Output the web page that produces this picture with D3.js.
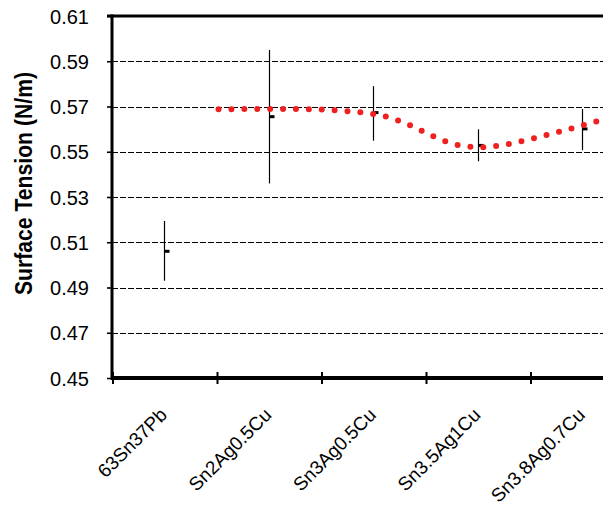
<!DOCTYPE html>
<html>
<head>
<meta charset="utf-8">
<script src="https://cdn.jsdelivr.net/npm/d3@7"></script>
<style>
  html, body { margin: 0; padding: 0; background: #fff; }
  svg { display: block; }
</style>
</head>
<body>
<svg id="chart" width="603" height="510"></svg>
<script>
// ---- data ----
const categories = ["63Sn37Pb", "Sn2Ag0.5Cu", "Sn3Ag0.5Cu", "Sn3.5Ag1Cu", "Sn3.8Ag0.7Cu"];
const meanValues = [0.506, 0.5655, 0.5673, 0.5528, 0.5601];
const errHigh    = [0.5194, 0.5950, 0.5790, 0.5599, 0.5689];
const errLow     = [0.4930, 0.5360, 0.5549, 0.5458, 0.5507];
// red dotted trend curve (x in category-index units)
const trendX = [0.51, 1.0, 1.38, 1.63, 1.87, 2.11, 2.34, 2.56, 2.79, 3.03, 3.28, 3.52, 3.76, 3.99, 4.14];
const trendY = [0.5688, 0.5689, 0.5688, 0.5683, 0.5674, 0.5656, 0.5618, 0.5569, 0.5531, 0.5520, 0.5534, 0.5559, 0.5587, 0.5616, 0.5636];
const yTicks = [0.45, 0.47, 0.49, 0.51, 0.53, 0.55, 0.57, 0.59, 0.61];
const xBoundaries = [-0.5, 0.5, 1.5, 2.5, 3.5, 4.5];

// ---- layout ----
const svg = d3.select("#chart");
const mLeft = 112, mTop = 16, mBottom = 378, mRight = 635.5;
const x = d3.scaleLinear().domain([-0.5, 4.5]).range([mLeft + 1, mRight]);
const y = d3.scaleLinear().domain([0.45, 0.61]).range([mBottom, mTop]);
const font = "'Liberation Sans', Arial, sans-serif";

svg.append("rect").attr("width", 603).attr("height", 510).attr("fill", "#fff");

// gridlines
svg.append("g").selectAll("line")
  .data(yTicks.filter(v => v > 0.455 && v < 0.605))
  .join("line")
  .attr("x1", mLeft).attr("x2", mRight)
  .attr("y1", d => Math.round(y(d)) + 0.5).attr("y2", d => Math.round(y(d)) + 0.5)
  .attr("stroke", "#000").attr("stroke-width", 1.2)
  .attr("stroke-dasharray", "6,2");

// y axis ticks + labels
const yAxis = d3.axisLeft(y).tickValues(yTicks).tickSize(5).tickPadding(18)
  .tickFormat(d3.format(".2f"));
const gy = svg.append("g").attr("transform", `translate(${mLeft},0)`).call(yAxis);
gy.select(".domain").remove();
gy.selectAll(".tick line").attr("stroke", "#000").attr("stroke-width", 1.6);
gy.selectAll(".tick text")
  .attr("font-family", font).attr("font-size", "20px").attr("fill", "#000")
  .attr("dy", "0.36em");

// frame lines
svg.append("line").attr("x1", mLeft - 5).attr("x2", mRight)
  .attr("y1", y(0.61)).attr("y2", y(0.61))
  .attr("stroke", "#000").attr("stroke-width", 3);
svg.append("line").attr("x1", mLeft).attr("x2", mLeft)
  .attr("y1", y(0.61) - 1.5).attr("y2", y(0.45) + 2)
  .attr("stroke", "#000").attr("stroke-width", 3);
svg.append("line").attr("x1", mLeft - 1).attr("x2", mRight)
  .attr("y1", y(0.45)).attr("y2", y(0.45))
  .attr("stroke", "#000").attr("stroke-width", 4);

// x ticks
svg.append("g").selectAll("line")
  .data(xBoundaries)
  .join("line")
  .attr("x1", d => x(d)).attr("x2", d => x(d))
  .attr("y1", y(0.45) - 6).attr("y2", y(0.45) + 6)
  .attr("stroke", "#000").attr("stroke-width", 2);

// x labels rotated
svg.append("g").selectAll("text")
  .data(categories)
  .join("text")
  .attr("transform", (d, i) => `translate(${x(i) + 3},${y(0.45) + 38}) rotate(-45)`)
  .attr("text-anchor", "end")
  .attr("font-family", font).attr("font-size", "19px").attr("fill", "#000")
  .text(d => d);

// y title
svg.append("text")
  .attr("transform", `translate(32,${(72 + 295) / 2}) rotate(-90)`)
  .attr("text-anchor", "middle")
  .attr("font-family", font).attr("font-size", "24px").attr("font-weight", "bold")
  .attr("textLength", 223).attr("lengthAdjust", "spacingAndGlyphs")
  .text("Surface Tension (N/m)");

// error bars
const eb = svg.append("g");
eb.selectAll("line")
  .data(categories)
  .join("line")
  .attr("x1", (d, i) => Math.round(x(i)) - 0.5).attr("x2", (d, i) => Math.round(x(i)) - 0.5)
  .attr("y1", (d, i) => y(errHigh[i])).attr("y2", (d, i) => y(errLow[i]))
  .attr("stroke", "#000").attr("stroke-width", 1.2);
eb.selectAll("rect")
  .data(categories)
  .join("rect")
  .attr("x", (d, i) => Math.round(x(i)) - 0.5)
  .attr("y", (d, i) => y(meanValues[i]) - 1.5)
  .attr("width", 5).attr("height", 3)
  .attr("fill", "#000");

// red dotted trend
const line = d3.line()
  .x(d => x(d[0])).y(d => y(d[1]))
  .curve(d3.curveMonotoneX);
svg.append("path")
  .datum(trendX.map((v, i) => [v, trendY[i]]))
  .attr("d", line)
  .attr("fill", "none")
  .attr("stroke", "#ee2020")
  .attr("stroke-width", 6)
  .attr("stroke-linecap", "round")
  .attr("stroke-dasharray", "0,12.9");
</script>
</body>
</html>
